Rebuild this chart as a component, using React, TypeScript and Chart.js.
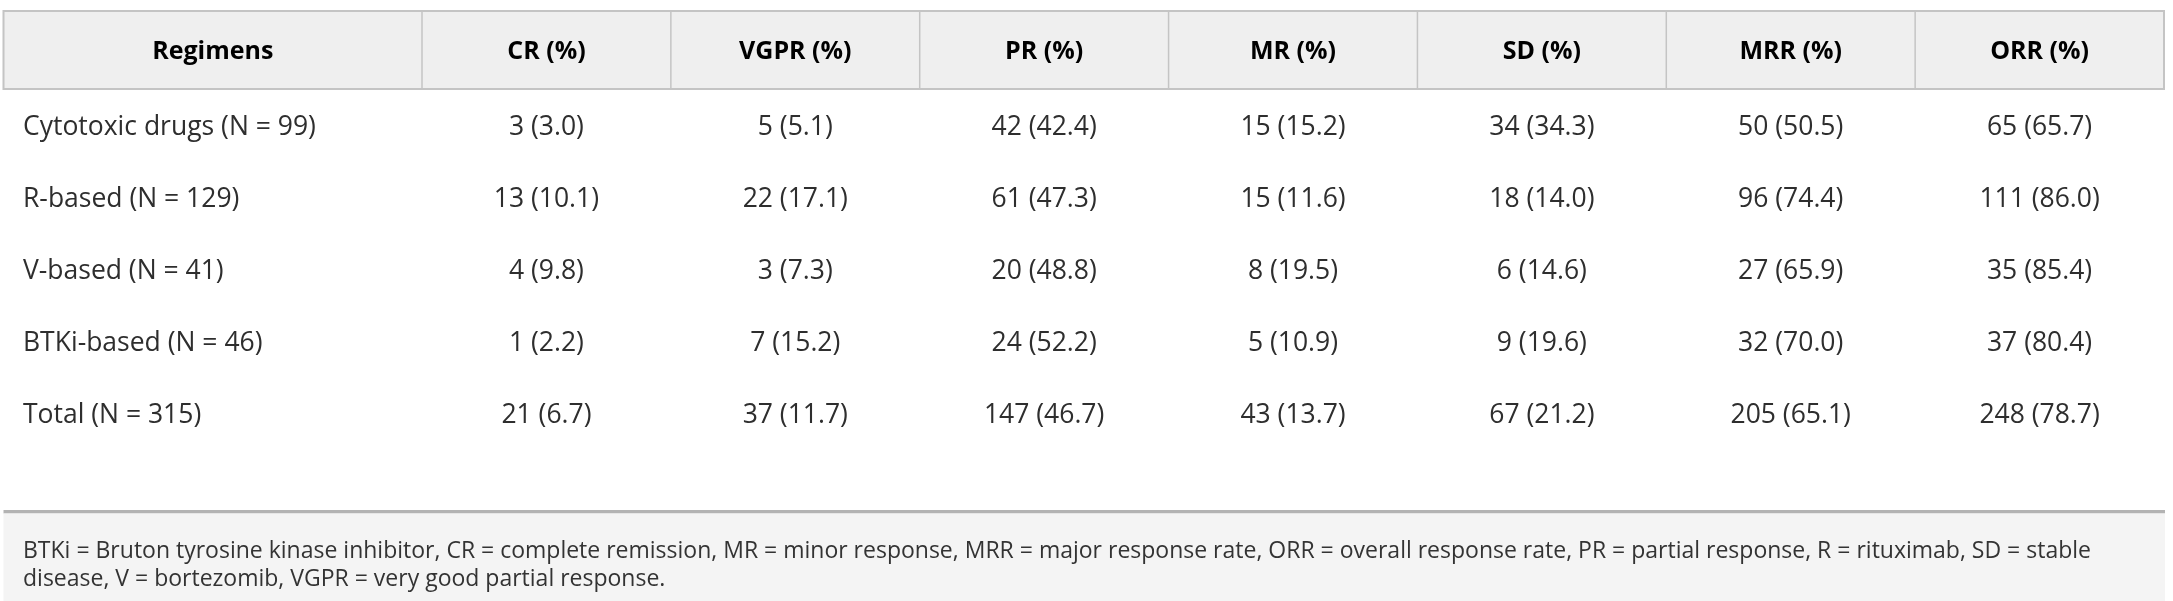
import React, { useEffect, useRef } from "react";
import { Chart, registerables } from "chart.js";

Chart.register(...registerables);

const firstHeader = "Regimens";
const columns = ["CR (%)", "VGPR (%)", "PR (%)", "MR (%)", "SD (%)", "MRR (%)", "ORR (%)"];
const regimens = [
  "Cytotoxic drugs (N = 99)",
  "R-based (N = 129)",
  "V-based (N = 41)",
  "BTKi-based (N = 46)",
  "Total (N = 315)",
];

const crN = [3, 13, 4, 1, 21];
const crPct = [3.0, 10.1, 9.8, 2.2, 6.7];
const vgprN = [5, 22, 3, 7, 37];
const vgprPct = [5.1, 17.1, 7.3, 15.2, 11.7];
const prN = [42, 61, 20, 24, 147];
const prPct = [42.4, 47.3, 48.8, 52.2, 46.7];
const mrN = [15, 15, 8, 5, 43];
const mrPct = [15.2, 11.6, 19.5, 10.9, 13.7];
const sdN = [34, 18, 6, 9, 67];
const sdPct = [34.3, 14.0, 14.6, 19.6, 21.2];
const mrrN = [50, 96, 27, 32, 205];
const mrrPct = [50.5, 74.4, 65.9, 70.0, 65.1];
const orrN = [65, 111, 35, 37, 248];
const orrPct = [65.7, 86.0, 85.4, 80.4, 78.7];

const footnoteLines = [
  "BTKi = Bruton tyrosine kinase inhibitor, CR = complete remission, MR = minor response, MRR = major response rate, ORR = overall response rate, PR = partial response, R = rituximab, SD = stable",
  "disease, V = bortezomib, VGPR = very good partial response.",
];

const counts = [crN, vgprN, prN, mrN, sdN, mrrN, orrN];
const pcts = [crPct, vgprPct, prPct, mrPct, sdPct, mrrPct, orrPct];

const FONT = "'Open Sans', 'Noto Sans', sans-serif";

const tablePlugin = {
  id: "tablePlugin",
  beforeDraw(chart: any) {
    const ctx = chart.ctx;
    const xs = chart.scales.x;
    const ys = chart.scales.y;
    const area = chart.chartArea;
    const left = ys.left;
    const right = xs.right;
    const hTop = xs.top;
    const hBottom = xs.bottom;
    ctx.save();
    ctx.fillStyle = "#ffffff";
    ctx.fillRect(0, 0, chart.width, chart.height);
    // header background
    ctx.fillStyle = "#efefef";
    ctx.fillRect(left, hTop, right - left, hBottom - hTop);
    ctx.strokeStyle = "#c4c4c4";
    ctx.lineWidth = 2;
    ctx.strokeRect(left, hTop, right - left, hBottom - hTop);
    // column separators in header
    ctx.lineWidth = 1.5;
    const n = columns.length;
    const band = (xs.getPixelForValue(n - 1) - xs.getPixelForValue(0)) / (n - 1);
    for (let i = 0; i < n; i++) {
      const bx = xs.getPixelForValue(i) - band / 2;
      ctx.beginPath();
      ctx.moveTo(bx, hTop);
      ctx.lineTo(bx, hBottom);
      ctx.stroke();
    }
    // header text
    ctx.fillStyle = "#000000";
    ctx.font = `bold 25px ${FONT}`;
    ctx.textAlign = "center";
    ctx.textBaseline = "alphabetic";
    const hy = (hTop + hBottom) / 2 + 9;
    ctx.fillText(firstHeader, (left + xs.left) / 2, hy);
    for (let i = 0; i < n; i++) {
      ctx.fillText(columns[i], xs.getPixelForValue(i), hy);
    }
    // footer
    const fTop = area.bottom + 61;
    ctx.fillStyle = "#b3b3b3";
    ctx.fillRect(left, fTop, right - left + 1, 3.5);
    ctx.fillStyle = "#f4f4f4";
    ctx.fillRect(left, fTop + 3.5, right - left + 1, chart.height - fTop - 3.5);
    ctx.fillStyle = "#333333";
    ctx.font = `23px ${FONT}`;
    ctx.textAlign = "left";
    footnoteLines.forEach((line, i) => {
      ctx.fillText(line, left + 19.5, fTop + 48 + i * 28);
    });
    ctx.restore();
  },
  afterDatasetsDraw(chart: any) {
    const ctx = chart.ctx;
    const ys = chart.scales.y;
    ctx.save();
    ctx.fillStyle = "#2e2e2e";
    ctx.font = `26.5px ${FONT}`;
    ctx.textBaseline = "alphabetic";
    ctx.textAlign = "left";
    regimens.forEach((r, i) => {
      ctx.fillText(r, ys.left + 19.5, ys.getPixelForValue(i) + 10);
    });
    ctx.textAlign = "center";
    chart.data.datasets.forEach((ds: any, di: number) => {
      const meta = chart.getDatasetMeta(di);
      meta.data.forEach((pt: any, i: number) => {
        const txt = `${counts[di][i]} (${pcts[di][i].toFixed(1)})`;
        ctx.fillText(txt, pt.x, pt.y + 10);
      });
    });
    ctx.restore();
  },
};

export default function App() {
  const ref = useRef<HTMLCanvasElement | null>(null);
  useEffect(() => {
    document.body.style.margin = "0";
    const canvas = ref.current!;
    const datasets = columns.map((c) => ({
      label: c,
      data: regimens.map((r) => ({ x: c, y: r })),
      showLine: false,
      pointRadius: 0,
      pointHoverRadius: 0,
    }));
    const chart = new Chart(canvas, {
      type: "line",
      data: { labels: columns, datasets },
      options: {
        responsive: false,
        animation: false,
        events: [],
        layout: { padding: { left: 3.5, right: 9, top: 11, bottom: 152 } },
        plugins: { legend: { display: false }, tooltip: { enabled: false }, title: { display: false } },
        scales: {
          x: {
            type: "category",
            labels: columns,
            position: "top",
            offset: true,
            grid: { display: false },
            border: { display: false },
            ticks: { display: false },
            afterFit: (s: any) => {
              s.height = 78;
            },
          },
          y: {
            type: "category",
            labels: regimens,
            offset: true,
            grid: { display: false },
            border: { display: false },
            ticks: { display: false },
            afterFit: (s: any) => {
              s.width = 418.5;
            },
          },
        },
      },
      plugins: [tablePlugin],
    });
    return () => chart.destroy();
  }, []);
  return (
    <canvas
      ref={ref}
      width={2173}
      height={601}
      style={{ display: "block", width: "2173px", height: "601px" }}
    />
  );
}
